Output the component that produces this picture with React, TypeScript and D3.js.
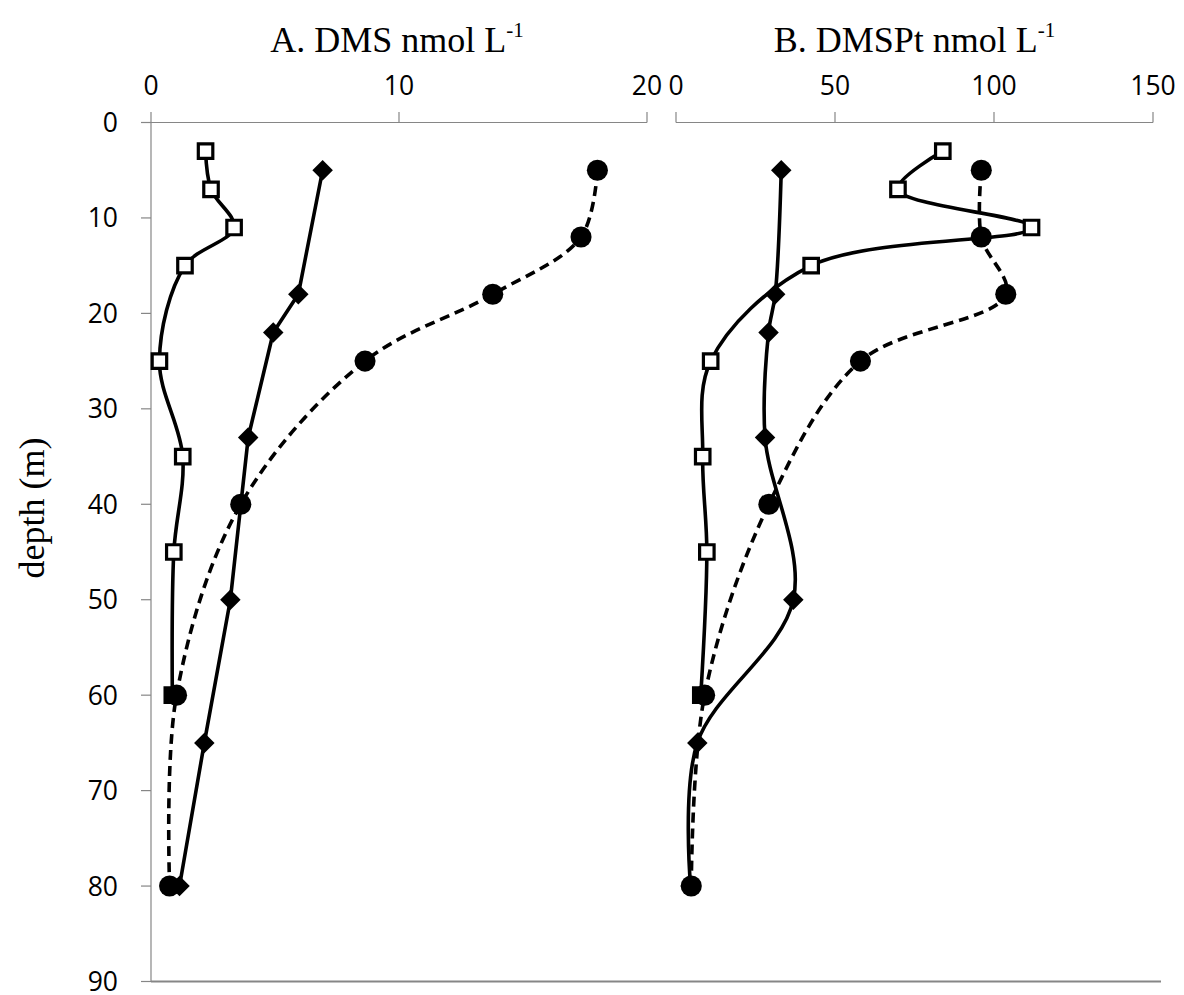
import React from 'react';
import * as d3 from 'd3';

// ---- data ----
const depthTicks = [0, 10, 20, 30, 40, 50, 60, 70, 80, 90];
const dmsTicks = [0, 10, 20];
const dmsptTicks = [0, 50, 100, 150];

const squareDepths = [3, 7, 11, 15, 25, 35, 45, 60];
const diamondDepths = [5, 18, 22, 33, 50, 65, 80];
const circleDepths = [5, 12, 18, 25, 40, 60, 80];

const dmsSquares = [2.2, 2.42, 3.35, 1.37, 0.34, 1.28, 0.92, 0.86];
const dmsDiamonds = [6.92, 5.94, 4.93, 3.92, 3.2, 2.15, 1.15];
const dmsCircles = [18.0, 17.34, 13.78, 8.63, 3.62, 1.03, 0.75];

const dmsptSquares = [83.9, 69.8, 111.8, 42.5, 10.9, 8.4, 9.7, 7.8];
const dmsptDiamonds = [33.1, 31.2, 29.1, 28.0, 36.9, 6.7, 4.6];
const dmsptCircles = [96.0, 96.0, 103.7, 58.0, 29.2, 9.0, 4.8];

type Pt = { v: number; d: number };
const zip = (vals: number[], depths: number[]): Pt[] => vals.map((v, i) => ({ v, d: depths[i] }));

const W = 1184;
const H = 995;
const AX = '#868686';
const SERIF = '"Liberation Serif", "Times New Roman", serif';
const SANS = '"Open Sans", "Noto Sans", sans-serif';

const y = d3.scaleLinear().domain([0, 90]).range([122.5, 981.5]);
const xA = d3.scaleLinear().domain([0, 20]).range([151, 647]);
const xB = d3.scaleLinear().domain([0, 150]).range([676, 1153]);

const squarePath = d3.symbol(d3.symbolSquare, 210)()!;
const diamondPath = d3.symbol(d3.symbolSquare, 210)()!;
const circlePath = d3.symbol(d3.symbolCircle, 350)()!;

function Series({ x, data, smooth, dashed }: { x: d3.ScaleLinear<number, number>; data: Pt[]; smooth: boolean; dashed?: boolean }) {
  const line = d3
    .line<Pt>()
    .x((p) => x(p.v))
    .y((p) => y(p.d))
    .curve(smooth ? d3.curveCatmullRom.alpha(0.5) : d3.curveLinear);
  return (
    <path
      d={line(data) || ''}
      fill="none"
      stroke="#000"
      strokeWidth={3.6}
      strokeDasharray={dashed ? '10,6' : undefined}
      strokeLinejoin="round"
    />
  );
}

function Markers({ x, data, kind }: { x: d3.ScaleLinear<number, number>; data: Pt[]; kind: 'sq' | 'dia' | 'cir' }) {
  return (
    <g>
      {data.map((p, i) => {
        const tx = x(p.v);
        const ty = y(p.d);
        if (kind === 'sq') {
          const filled = i === data.length - 1;
          return (
            <path key={i} d={squarePath} transform={`translate(${tx},${ty})`} fill={filled ? '#000' : '#fff'} stroke="#000" strokeWidth={3.2} />
          );
        }
        if (kind === 'dia') {
          return <path key={i} d={diamondPath} transform={`translate(${tx},${ty}) rotate(45)`} fill="#000" />;
        }
        return <path key={i} d={circlePath} transform={`translate(${tx},${ty})`} fill="#000" />;
      })}
    </g>
  );
}

function Title({ cx, label }: { cx: number; label: string }) {
  return (
    <text x={cx} y={52} textAnchor="middle" fontFamily={SERIF} fontSize={36} fill="#000">
      {label}
      <tspan fontSize={21} dy={-15}>-1</tspan>
    </text>
  );
}

export default function App() {
  const y0 = y(0);
  const y90 = y(90);
  return (
    <svg width={W} height={H} style={{ position: 'absolute', left: 0, top: 0, background: '#fff' }}>
      <rect x={0} y={0} width={W} height={H} fill="#fff" />

      {/* Titles */}
      <Title cx={397} label={'A. DMS  nmol L'} />
      <Title cx={914.5} label={'B. DMSPt  nmol L'} />

      {/* y label */}
      <text
        transform={`translate(44, 508) rotate(-90)`}
        textAnchor="middle"
        fontFamily={SERIF}
        fontSize={36}
        fill="#000"
      >
        depth (m)
      </text>

      {/* Panel A axes */}
      <line x1={141} x2={xA(20)} y1={y0} y2={y0} stroke={AX} strokeWidth={1.2} />
      {dmsTicks.map((t) => (
        <g key={'ta' + t}>
          <line x1={xA(t)} x2={xA(t)} y1={y0 - 10.5} y2={y0} stroke={AX} strokeWidth={1.2} />
          <text x={xA(t)} y={95} textAnchor="middle" fontFamily={SANS} fontSize={26.5} fill="#000">
            {t}
          </text>
        </g>
      ))}
      <line x1={xA(0)} x2={xA(0)} y1={y0} y2={y90} stroke={AX} strokeWidth={1.2} />
      {depthTicks.map((t) => (
        <g key={'ty' + t}>
          <line x1={141} x2={xA(0)} y1={y(t)} y2={y(t)} stroke={AX} strokeWidth={1.2} />
          <text x={118} y={y(t) + 9.5} textAnchor="end" fontFamily={SANS} fontSize={26.5} fill="#000">
            {t}
          </text>
        </g>
      ))}

      {/* Panel B axis */}
      <line x1={xB(0)} x2={xB(150)} y1={y0} y2={y0} stroke={AX} strokeWidth={1.2} />
      {dmsptTicks.map((t) => (
        <g key={'tb' + t}>
          <line x1={xB(t)} x2={xB(t)} y1={y0 - 10.5} y2={y0} stroke={AX} strokeWidth={1.2} />
          <text x={xB(t)} y={95} textAnchor="middle" fontFamily={SANS} fontSize={26.5} fill="#000">
            {t}
          </text>
        </g>
      ))}

      {/* bottom line */}
      <line x1={xA(0)} x2={1161} y1={y90} y2={y90} stroke={AX} strokeWidth={2} />

      {/* Panel A series */}
      <Series x={xA} data={zip(dmsCircles, circleDepths)} smooth dashed />
      <Series x={xA} data={zip(dmsDiamonds, diamondDepths)} smooth={false} />
      <Series x={xA} data={zip(dmsSquares, squareDepths)} smooth />
      <Markers x={xA} data={zip(dmsSquares, squareDepths)} kind="sq" />
      <Markers x={xA} data={zip(dmsDiamonds, diamondDepths)} kind="dia" />
      <Markers x={xA} data={zip(dmsCircles, circleDepths)} kind="cir" />

      {/* Panel B series */}
      <Series x={xB} data={zip(dmsptCircles, circleDepths)} smooth dashed />
      <Series x={xB} data={zip(dmsptDiamonds, diamondDepths)} smooth />
      <Series x={xB} data={zip(dmsptSquares, squareDepths)} smooth />
      <Markers x={xB} data={zip(dmsptSquares, squareDepths)} kind="sq" />
      <Markers x={xB} data={zip(dmsptDiamonds, diamondDepths)} kind="dia" />
      <Markers x={xB} data={zip(dmsptCircles, circleDepths)} kind="cir" />
    </svg>
  );
}
